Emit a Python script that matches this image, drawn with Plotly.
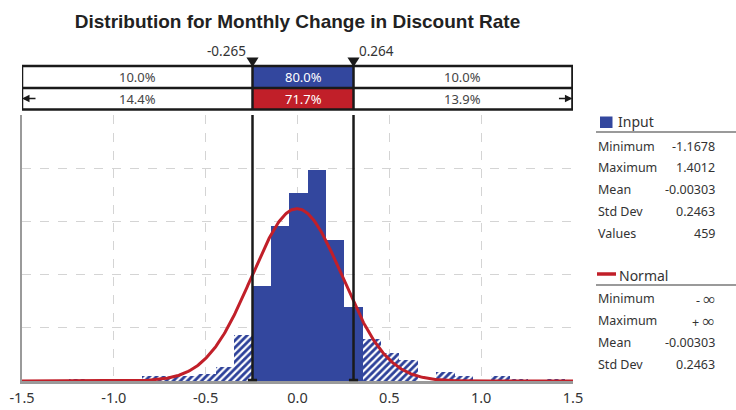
import numpy as np
import plotly.graph_objects as go

# histogram of the input (bin left edges, counts per bin)
bin_left = [-1.245, -1.145, -1.045, -0.945, -0.845, -0.745, -0.645, -0.545, -0.445,
            -0.345, -0.245, -0.145, -0.045, 0.055, 0.155, 0.255, 0.355, 0.455,
            0.555, 0.655, 0.755, 0.855, 0.955, 1.055, 1.155, 1.255, 1.355]
counts = [1, 0, 1, 0, 2, 2, 2, 3, 6, 20, 41, 67, 81, 91, 61, 32, 18, 12, 9, 0, 4,
          2, 0, 2, 1, 0, 1]
bin_width = 0.1
n_values = 459

# delimiters: printed values and where the markers sit on the axis
delim_labels = ["-0.265", "0.264"]
delim_x = [-0.245, 0.305]

# band percentages (left, middle, right)
input_pct = ["10.0%", "80.0%", "10.0%"]
normal_pct = ["14.4%", "71.7%", "13.9%"]

# stats panel
INF = "<span style='font-size:17px'>\u221e</span>"
input_stats = [("Minimum", "-1.1678"), ("Maximum", "1.4012"), ("Mean", "-0.00303"),
               ("Std Dev", "0.2463"), ("Values", "459")]
normal_stats = [("Minimum", "- " + INF), ("Maximum", "+ " + INF), ("Mean", "-0.00303"),
                ("Std Dev", "0.2463")]
normal_mean = -0.00303
normal_sd = 0.2463

x_ticks = [-1.5, -1.0, -0.5, 0.0, 0.5, 1.0, 1.5]

BLUE = "#33479e"
RED = "#c11f29"
TXT = "#333333"
FONT = "Noto Sans"

# pixel frame of the plot area (used for layout placement only)
W, H = 736, 410
L, R, T, B = 22, 573, 115, 381


def px_x(px):
    return (px - L) / (R - L)


def px_y(py):
    return (B - py) / (B - T)


def note(x, y, text, size=12.5, color=TXT, xref="paper", xanchor="center", **kw):
    return dict(x=x, y=y, xref=xref, yref="paper", text=text, showarrow=False,
                xanchor=xanchor, yanchor="middle",
                font=dict(family=FONT, size=size, color=color), **kw)


centers = [b + bin_width / 2 for b in bin_left]
density = [c / (n_values * bin_width) for c in counts]
lo, hi = delim_x
inside = [(b >= lo - 1e-9) and (b < hi) for b in bin_left]

fig = go.Figure()
fig.add_trace(go.Bar(
    x=[c for c, k in zip(centers, inside) if not k],
    y=[d for d, k in zip(density, inside) if not k],
    width=bin_width,
    marker=dict(color="white", line_width=0,
                pattern=dict(shape="/", fgcolor="#2c4099", bgcolor="white", size=5,
                             solidity=0.55, fgopacity=1)),
    showlegend=False, hoverinfo="skip",
))
fig.add_trace(go.Bar(
    x=[c for c, k in zip(centers, inside) if k],
    y=[d for d, k in zip(density, inside) if k],
    width=bin_width,
    marker=dict(color=BLUE, line_width=0),
    showlegend=False, hoverinfo="skip",
))

# fitted normal curve
xs = np.linspace(-1.5, 1.5, 601)
pdf = np.exp(-0.5 * ((xs - normal_mean) / normal_sd) ** 2) / (normal_sd * np.sqrt(2 * np.pi))
fig.add_trace(go.Scatter(x=xs, y=pdf, mode="lines", line=dict(color=RED, width=3),
                         showlegend=False, hoverinfo="skip", cliponaxis=False))

shapes = []
annotations = []

# delimiter lines in the plot
for x in delim_x:
    shapes.append(dict(type="line", xref="x", yref="paper", x0=x, x1=x, y0=0, y1=1,
                       line=dict(color="#1a1a1a", width=2.5), layer="above"))
    shapes.append(dict(type="line", xref="x", yref="paper", x0=x - 0.025, x1=x + 0.025,
                       y0=px_y(380), y1=px_y(380), line=dict(color="#1a1a1a", width=2.5),
                       layer="above"))

# band boxes
row1_top, row_mid, row2_bot = px_y(66), px_y(88), px_y(109.5)
box_right = 1.497
shapes.append(dict(type="rect", xref="x", yref="paper", x0=lo, x1=hi, y0=row_mid, y1=row1_top,
                   fillcolor=BLUE, line_width=0))
shapes.append(dict(type="rect", xref="x", yref="paper", x0=lo, x1=hi, y0=row2_bot, y1=row_mid,
                   fillcolor=RED, line_width=0))
shapes.append(dict(type="rect", xref="x", yref="paper", x0=-1.5, x1=box_right, y0=row2_bot,
                   y1=row1_top, line=dict(color="#1a1a1a", width=2.5)))
shapes.append(dict(type="line", xref="x", yref="paper", x0=-1.5, x1=box_right, y0=row_mid,
                   y1=row_mid, line=dict(color="#1a1a1a", width=2.5)))
for x in delim_x:
    shapes.append(dict(type="line", xref="x", yref="paper", x0=x, x1=x, y0=row2_bot,
                       y1=row1_top, line=dict(color="#1a1a1a", width=2.5)))
    # marker triangle
    tw = 0.033
    shapes.append(dict(type="path", xref="x", yref="paper",
                       path=f"M {x - tw},{px_y(57.5)} L {x + tw},{px_y(57.5)} L {x},{px_y(67)} Z",
                       fillcolor="#1a1a1a", line_width=0))

sec_x = [(-1.5 + lo) / 2, (lo + hi) / 2, (hi + box_right) / 2]
for row_y, labels in ((px_y(77), input_pct), (px_y(98.5), normal_pct)):
    for i, (sx, lab) in enumerate(zip(sec_x, labels)):
        annotations.append(note(sx, row_y, lab, size=13, xref="x",
                                color="white" if i == 1 else "#444"))

# arrows at row 2 ends
for x_tip, off in ((-1.5, 15), (box_right, -15)):
    annotations.append(dict(x=x_tip, y=px_y(98.5), xref="x", yref="paper", ax=off, ay=0,
                            text="", showarrow=True, arrowhead=2, arrowsize=1,
                            arrowwidth=1.5, arrowcolor="#1a1a1a"))

# delimiter value labels
annotations.append(note(delim_x[0], px_y(51), delim_labels[0], size=13.5, xref="x",
                        xanchor="right", xshift=-5))
annotations.append(note(delim_x[1], px_y(51), delim_labels[1], size=13.5, xref="x",
                        xanchor="left", xshift=3))

# stats panel
lab_x, val_x = px_x(596), px_x(717)
shapes.append(dict(type="rect", xref="paper", yref="paper", x0=px_x(600), x1=px_x(612.5),
                   y0=px_y(128), y1=px_y(116.5), fillcolor=BLUE, line_width=0))
annotations.append(note(px_x(616), px_y(122), "Input", size=14, xanchor="left"))
shapes.append(dict(type="line", xref="paper", yref="paper", x0=px_x(596), x1=px_x(736),
                   y0=px_y(132), y1=px_y(132), line=dict(color="#9a9a9a", width=2)))
for i, (lab, val) in enumerate(input_stats):
    yy = px_y(146 + 21.8 * i)
    annotations.append(note(lab_x, yy, lab, xanchor="left"))
    annotations.append(note(val_x, yy, val, xanchor="right"))

shapes.append(dict(type="line", xref="paper", yref="paper", x0=px_x(597), x1=px_x(616),
                   y0=px_y(274), y1=px_y(274), line=dict(color=RED, width=3.5)))
annotations.append(note(px_x(617), px_y(275), "Normal", size=14, xanchor="left"))
shapes.append(dict(type="line", xref="paper", yref="paper", x0=px_x(596), x1=px_x(736),
                   y0=px_y(285), y1=px_y(285), line=dict(color="#9a9a9a", width=2)))
for i, (lab, val) in enumerate(normal_stats):
    yy = px_y(298.5 + 21.9 * i)
    annotations.append(note(lab_x, yy, lab, xanchor="left"))
    annotations.append(note(val_x, yy, val, xanchor="right"))

fig.update_layout(
    width=W, height=H,
    margin=dict(l=L, r=W - R, t=T, b=H - B, pad=0, autoexpand=False),
    paper_bgcolor="white", plot_bgcolor="white",
    bargap=0, barmode="overlay",
    title=dict(text="Distribution for Monthly Change in Discount Rate", x=0.5, xref="paper",
               y=1 - 21 / H, yref="container", yanchor="middle", xanchor="center",
               font=dict(family="Liberation Sans", size=19, color="#222", weight="bold")),
    shapes=shapes, annotations=annotations,
)
fig.update_xaxes(range=[-1.5, 1.5], tickvals=x_ticks, ticktext=[f"{v:.1f}" for v in x_ticks],
                 showgrid=True, gridcolor="#d4d4d4", griddash="dash", gridwidth=1,
                 zeroline=False, showline=True, linecolor="#9a9a9a", linewidth=3,
                 ticks="", ticklabelstandoff=2, automargin=False,
                 tickfont=dict(family=FONT, size=14.5, color=TXT))
fig.update_yaxes(range=[0, 2.5], dtick=0.5, showticklabels=False, showgrid=True,
                 gridcolor="#d4d4d4", griddash="dash", gridwidth=1, zeroline=False,
                 showline=True, linecolor="#9a9a9a", linewidth=2, ticks="", automargin=False)

fig.write_html("out.html", config={"displayModeBar": False},
               post_script="document.body.style.margin='0';")
